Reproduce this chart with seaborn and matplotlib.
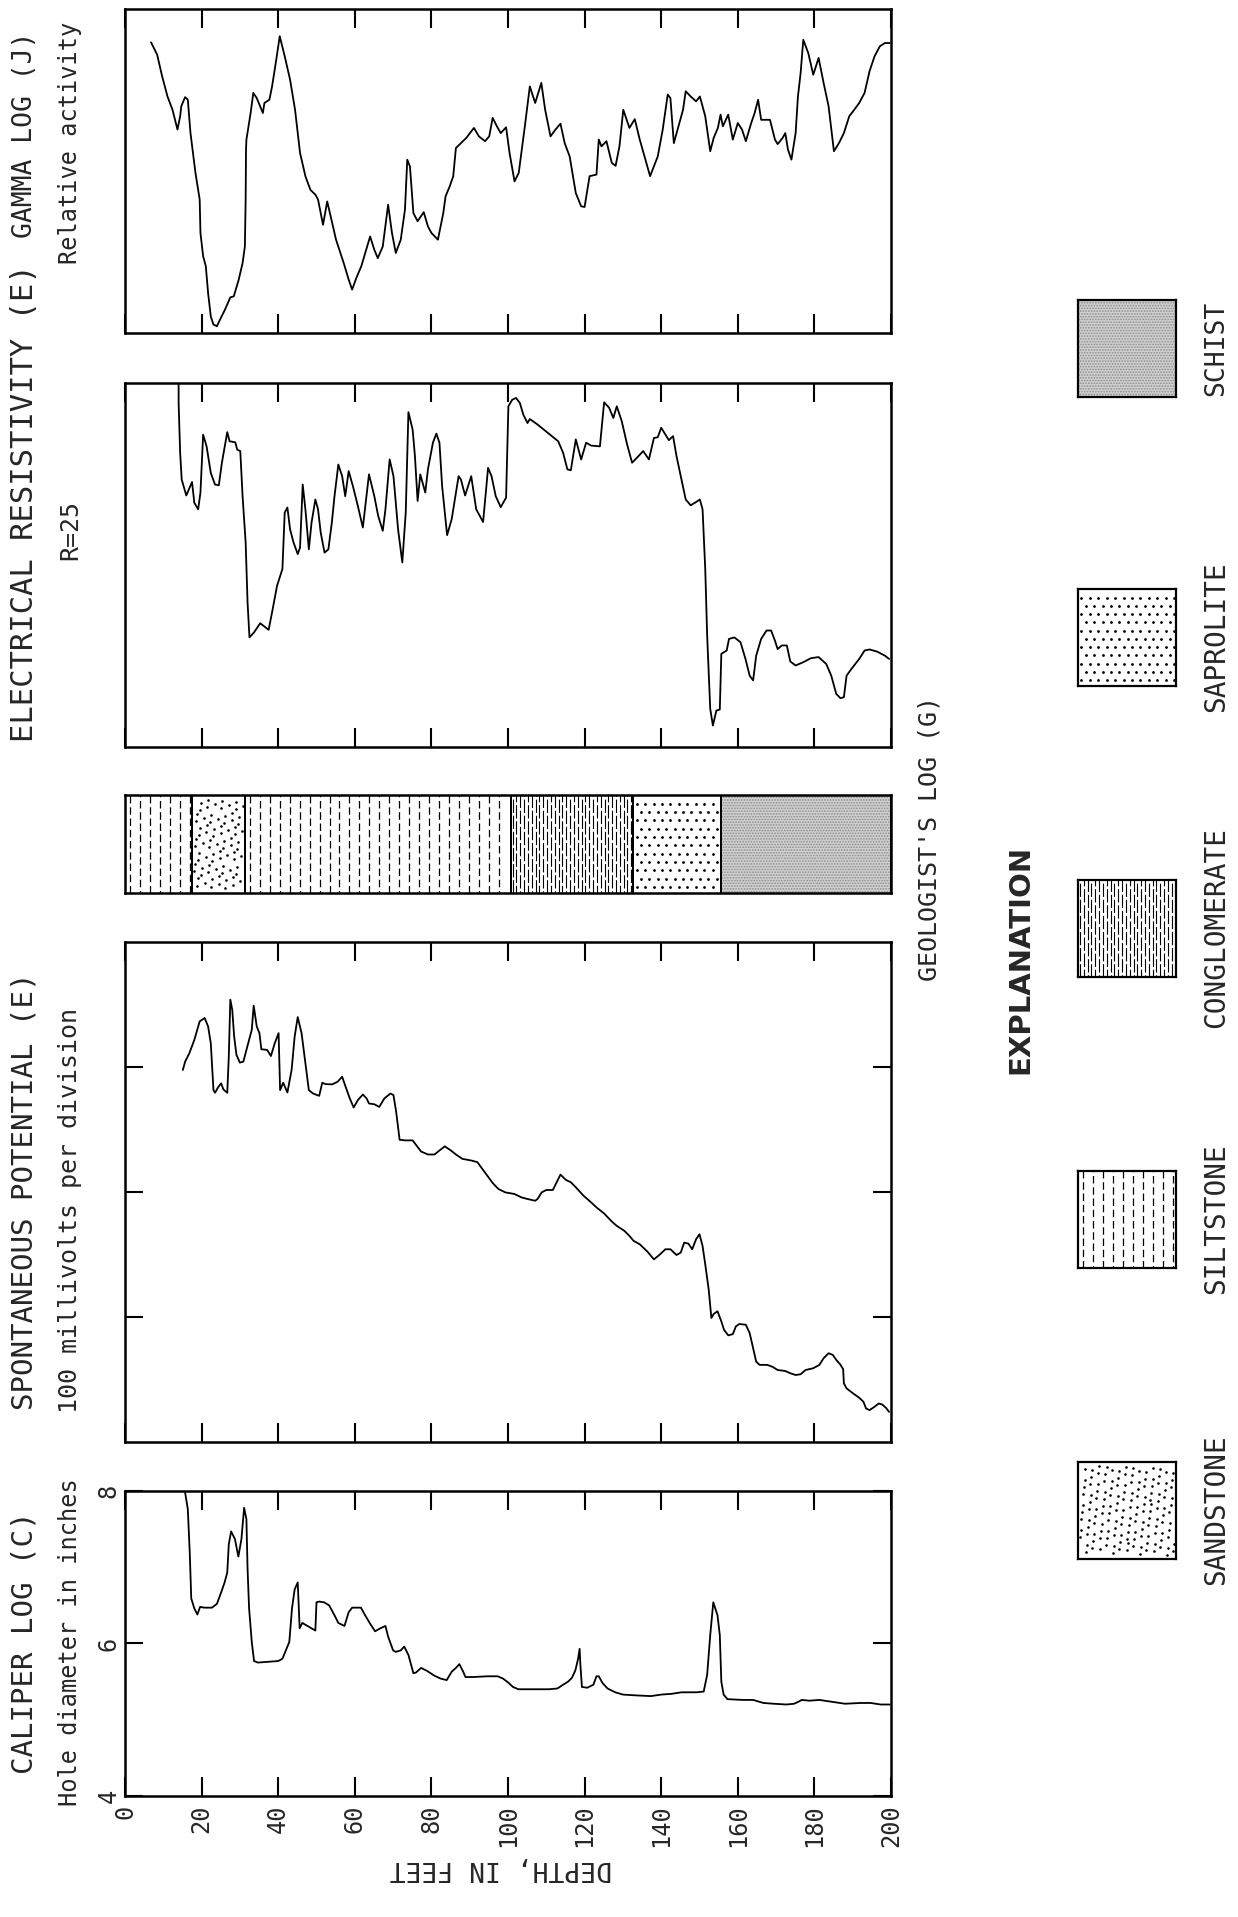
import matplotlib
matplotlib.use("Agg")
import matplotlib.pyplot as plt
import numpy as np
import seaborn as sns

# ---- data (depth in feet) ----
gamma_depth = [6.8, 8.4, 9.7, 11.1, 12.4, 13.7, 14.4, 14.7, 15.7, 16.4, 17.1, 18.4, 19.5, 19.7, 20.4, 21.1, 21.7, 22.4,
               23.1, 24.0, 24.8, 26.1, 27.5, 28.4, 29.7, 30.7, 31.3, 31.5, 31.6, 31.7, 32.8, 33.5, 34.4, 36.0, 36.4, 37.7,
               38.4, 39.5, 40.4, 41.7, 43.1, 44.4, 45.7, 47.1, 48.4, 49.7, 50.4, 51.7, 52.8, 53.7, 55.1, 57.1, 58.4, 59.3,
               60.4, 61.7, 64.0, 65.1, 66.0, 67.3, 68.7, 69.7, 70.7, 72.0, 73.1, 73.7, 74.4, 75.3, 76.4, 78.0, 79.1, 80.0,
               81.7, 83.1, 83.7, 84.8, 85.7, 86.4, 87.7, 89.1, 91.1, 92.4, 94.0, 95.1, 96.0, 97.1, 98.1, 99.5, 100.4, 101.7,
               102.8, 104.4, 105.7, 107.1, 108.7, 109.7, 111.1, 112.4, 113.7, 114.8, 116.1, 117.7, 119.1, 120.0, 121.3,
               123.1, 123.7, 124.4, 125.7, 127.1, 128.1, 129.1, 130.1, 131.7, 133.1, 134.4, 137.1, 139.1, 140.4, 141.7,
               142.4, 143.3, 144.4, 145.7, 146.4, 147.7, 149.1, 150.1, 151.5, 152.8, 153.7, 154.8, 155.5, 156.1, 157.5,
               158.7, 160.0, 161.1, 162.1, 163.5, 164.4, 165.3, 166.1, 168.4, 169.7, 170.4, 171.7, 172.4, 173.1, 174.0,
               175.1, 175.7, 176.4, 177.1, 178.4, 179.7, 181.1, 182.4, 183.7, 185.1, 186.4, 187.7, 189.1, 190.4, 191.7,
               193.1, 194.4, 195.7, 197.1, 198.4, 199.7]
gamma_value = [89.7, 85.9, 79.2, 73.0, 68.9, 62.8, 66.9, 70.0, 72.8, 72.0, 61.7, 49.4, 41.2, 30.9, 23.7, 20.6, 12.3, 5.1,
               2.6, 2.1, 4.1, 7.2, 11.0, 11.3, 16.5, 21.6, 26.7, 41.2, 56.6, 59.7, 67.9, 74.1, 72.5, 67.9, 71.0, 72.0,
               76.1, 84.4, 91.6, 85.4, 78.2, 68.9, 55.6, 48.4, 44.2, 42.7, 41.2, 33.4, 40.6, 36.0, 28.8, 21.6, 16.5, 13.4,
               17.0, 20.6, 29.8, 25.7, 23.1, 26.7, 39.6, 30.9, 24.7, 28.8, 38.1, 53.5, 51.4, 37.0, 34.5, 37.3, 32.9, 30.9,
               28.8, 37.0, 42.2, 45.3, 48.4, 57.1, 58.6, 60.2, 63.3, 60.7, 59.2, 60.7, 66.4, 63.8, 61.7, 63.5, 55.6, 46.8,
               49.4, 63.8, 76.1, 71.0, 77.2, 68.9, 60.7, 62.8, 64.6, 58.6, 54.5, 43.2, 39.1, 38.9, 48.4,
               48.9, 59.7, 57.6, 59.2, 52.5, 51.6, 57.6, 68.9, 63.3, 66.0, 59.7, 48.4, 54.5, 62.8, 73.6,
               72.5, 58.6, 63.3, 68.9, 74.6, 73.0, 71.5, 73.0, 66.9, 56.1, 60.2, 63.3, 67.4, 63.8, 67.4,
               59.7, 64.8, 62.8, 59.2, 64.8, 67.9, 72.0, 65.8, 65.8, 59.7, 58.3, 60.2, 61.7, 56.6, 53.5,
               61.7, 73.0, 80.2, 90.5, 86.4, 79.7, 84.9, 77.2, 70.0, 56.1, 58.6, 61.7, 66.9, 68.9, 71.0,
               74.1, 80.8, 85.4, 88.5, 89.5, 89.5]

res_depth = [14.0, 14.0, 14.4, 14.8, 16.0, 17.5, 18.1, 19.1, 19.7, 20.4, 21.3, 22.4, 23.5, 24.5, 25.3, 26.7, 27.3, 28.8,
             29.3, 30.1, 30.7, 31.5, 32.0, 32.5, 33.7, 35.3, 36.4, 37.5, 38.4, 39.7, 41.1, 41.7, 42.4, 43.1, 44.0, 45.1,
             45.7, 46.4, 47.1, 48.0, 48.7, 49.7, 50.4, 51.1, 52.1, 53.1, 54.0, 54.7, 55.7, 56.7, 57.5, 58.4, 59.5, 60.8,
             62.1, 63.7, 65.1, 66.1, 67.3, 68.0, 69.1, 70.1, 71.3, 72.4, 73.3, 74.0, 75.1, 75.7, 76.4, 77.1, 78.4, 79.1,
             80.4, 81.3, 82.1, 82.8, 84.1, 85.3, 87.1, 87.7, 88.8, 90.4, 91.7, 93.5, 94.8, 95.7, 96.8, 98.1, 99.5, 100.1,
             101.1, 102.1, 103.1, 104.0, 105.1, 105.7, 107.7, 110.4, 113.1, 114.4, 115.5, 116.4, 117.7, 119.1, 120.4,
             121.7, 124.0, 125.1, 126.4, 127.5, 128.4, 129.7, 131.1, 132.4, 133.7, 135.3, 136.8, 138.1, 139.1, 140.0,
             141.1, 142.0, 143.1, 144.0, 145.1, 146.4, 147.7, 149.1, 150.1, 150.8, 151.5, 152.0, 152.8, 153.5, 154.4,
             155.3, 155.7, 157.1, 157.7, 159.1, 160.7, 162.0, 163.1, 164.0, 164.8, 166.1, 167.5, 168.7, 169.7, 170.4,
             171.5, 172.8, 173.7, 175.1, 177.1, 179.1, 181.1, 183.1, 184.4, 185.7, 186.8, 187.7, 188.4, 189.7, 191.7,
             193.1, 194.4, 196.4, 198.4, 199.5]
res_value = [100.0, 94.5, 80.8, 73.5, 69.1, 72.8, 67.1, 65.3, 69.9, 85.8, 82.6, 75.3, 72.1, 71.9, 78.1, 86.5, 84.0, 83.7,
             81.7, 81.3, 68.9, 56.2, 39.7, 30.1, 31.5, 34.0, 33.1, 32.2, 37.0, 44.3, 48.9, 64.4, 65.8, 59.8, 56.2, 53.0,
             54.8, 72.1, 65.3, 54.3, 61.6, 68.0, 65.3, 58.9, 53.4, 54.3, 61.6, 68.9, 77.6, 74.4, 68.9, 75.8, 71.7, 66.2,
             60.3, 74.9, 68.9, 63.5, 59.4, 65.3, 79.0, 74.4, 59.8, 50.7, 64.4, 92.0, 87.2, 79.9, 67.6, 74.9, 69.9, 76.3,
             83.6, 86.1, 83.6, 71.7, 58.2, 62.6, 74.4, 73.5, 69.1, 74.4, 65.3, 61.8, 76.7, 74.4, 68.9, 65.9, 68.5, 93.6,
             95.4, 95.9, 94.5, 91.3, 89.0, 90.1, 88.6, 86.3, 84.0, 80.8, 76.3, 76.0, 84.5, 79.0, 83.6,
             82.8, 82.6, 94.7, 93.2, 90.4, 93.6, 89.5, 83.1, 78.1, 79.5, 81.3, 79.0, 84.9, 85.1, 87.7,
             85.8, 84.3, 85.4, 79.9, 74.4, 68.0, 66.4, 67.3, 68.0, 65.3, 48.9, 30.6, 10.5, 5.9, 10.0,
             10.3, 25.6, 26.5, 29.7, 30.1, 28.8, 24.2, 19.6, 18.3, 25.1, 29.7, 32.0, 32.0, 29.2, 26.9,
             27.9, 27.9, 23.5, 22.4, 23.3, 24.4, 24.7, 22.8, 19.6, 14.6, 13.4, 13.7, 19.6, 21.5, 24.2,
             26.5, 26.8, 26.2, 25.1, 24.2]

sp_depth = [15.1, 15.7, 16.8, 18.1, 19.5, 20.8, 21.7, 22.4, 23.1, 23.5, 24.4, 25.1, 25.7, 26.7, 27.1, 27.5, 28.0, 28.5,
            29.1, 30.0, 30.9, 31.7, 32.4, 33.1, 33.6, 34.4, 35.1, 35.6, 37.1, 38.1, 39.1, 40.1, 40.5, 41.3, 42.4, 43.5,
            44.3, 45.1, 46.1, 47.1, 48.0, 49.1, 50.7, 51.5, 52.4, 54.1, 55.5, 56.7, 57.6, 58.7, 59.7, 60.8, 62.1, 63.1,
            63.7, 65.1, 66.4, 67.7, 69.3, 70.1, 70.8, 71.7, 73.1, 75.1, 76.1, 77.3, 79.1, 80.8, 82.1, 83.5, 85.1, 86.4,
            88.1, 90.4, 92.0, 93.1, 94.4, 96.0, 97.5, 99.3, 101.7, 103.5, 105.1, 107.1, 107.7, 108.8, 110.0, 111.7,
            112.7, 113.7, 115.1, 116.4, 117.7, 119.7, 121.7, 123.1, 125.1, 127.1, 128.4, 130.4, 131.7, 132.8, 134.4,
            136.4, 138.1, 139.5, 141.1, 142.4, 144.0, 145.1, 146.0, 147.1, 148.1, 149.1, 150.0, 150.8, 151.5, 152.4,
            153.1, 153.7, 154.7, 155.7, 156.4, 157.5, 158.7, 159.5, 160.4, 162.1, 163.1, 163.7, 164.8, 165.7, 167.7,
            169.1, 170.4, 172.4, 173.7, 175.1, 176.4, 177.7, 179.7, 181.3, 182.4, 183.7, 184.8, 185.7, 186.7, 187.5,
            187.7, 188.4, 190.1, 191.7, 192.8, 193.5, 194.4, 195.7, 196.8, 197.7, 198.7, 199.5]
sp_mv = [297.6, 304.3, 311.0, 321.7, 336.5, 339.2, 332.4, 319.0, 281.5, 279.4, 284.2, 286.9, 282.0, 279.4, 308.3, 353.9,
         345.8, 324.4, 309.7, 303.5, 304.3, 313.7, 321.7, 329.8, 349.1, 332.4, 327.1, 314.2, 313.7, 308.8, 319.0, 327.1,
         281.5, 287.4, 279.6, 297.6, 324.4, 339.9, 327.1, 303.0, 281.5, 278.8, 276.9, 287.4, 286.3, 286.1, 288.2, 292.2,
         284.2, 274.8, 267.6, 273.5, 278.0, 274.8, 270.8, 270.2, 268.1, 274.8, 278.8, 277.5, 264.1, 241.8, 241.3, 241.3,
         237.3, 232.4, 230.0, 230.0, 233.2, 236.5, 233.2, 230.0, 226.5, 225.2, 223.9, 219.3, 213.9, 207.2, 202.4, 199.7,
         198.4, 195.7, 194.4, 193.0, 194.4, 199.7, 201.6, 201.6, 207.8, 213.9, 209.7, 207.8, 203.8, 197.1, 191.7, 187.7,
         182.8, 176.4, 172.9, 168.9, 164.9, 160.9, 158.2, 152.3, 146.1, 149.6, 154.2, 154.2, 149.6, 151.5, 159.5, 158.7,
         154.2, 162.2, 166.2, 156.8, 142.1, 122.0, 99.2, 102.4, 104.6, 96.5, 89.8, 85.3, 86.3, 92.5, 94.4, 93.8, 87.1,
         79.1, 64.3, 61.7, 61.7, 60.1, 57.6, 56.8, 55.0, 53.6, 54.2, 57.6, 59.0, 61.7, 67.0, 71.0, 69.7, 65.7, 62.2,
         58.4, 46.9, 42.9, 38.9, 35.4, 32.2, 26.8, 25.5, 28.2, 30.8, 30.0, 27.3, 24.1]

cal_depth = [15.7, 16.4, 16.9, 17.3, 18.1, 18.9, 19.6, 20.7, 22.7, 24.0, 25.1, 26.0, 26.7, 27.1, 27.7, 28.7, 29.6, 30.4,
             31.1, 31.7, 32.0, 32.4, 33.1, 33.7, 34.7, 37.3, 40.0, 41.1, 42.0, 42.9, 43.6, 44.3, 45.1, 45.6, 46.3, 47.3,
             48.7, 49.7, 50.0, 50.7, 52.0, 53.3, 54.7, 55.7, 57.3, 58.4, 59.3, 60.7, 61.6, 62.7, 64.0, 65.3, 66.7, 68.0,
             68.7, 70.0, 70.7, 72.0, 72.9, 74.0, 75.3, 76.0, 77.3, 78.9, 80.7, 82.4, 84.0, 85.3, 86.4, 87.3, 88.3, 88.9,
             90.7, 94.7, 97.3, 98.7, 100.0, 101.3, 102.7, 106.7, 110.7, 112.9, 114.4, 115.7, 116.7, 117.6, 118.3, 118.7,
             118.9, 119.3, 120.7, 122.3, 123.1, 123.7, 124.7, 126.0, 128.0, 130.0, 133.3, 137.3, 140.0, 142.7, 145.3,
             149.3, 151.1, 152.0, 152.8, 153.6, 154.7, 155.3, 155.7, 156.3, 157.3, 161.3, 164.0, 166.7, 169.3, 172.7,
             174.7, 176.0, 176.7, 178.7, 181.3, 184.0, 188.0, 192.0, 194.7, 197.3, 199.7]
cal_inches = [7.98, 7.76, 7.20, 6.59, 6.46, 6.38, 6.48, 6.47, 6.47, 6.52, 6.67, 6.80, 6.93, 7.30, 7.47, 7.37, 7.14, 7.37,
              7.78, 7.63, 6.98, 6.46, 6.02, 5.77, 5.75, 5.76, 5.77, 5.80, 5.91, 6.02, 6.46, 6.71, 6.80, 6.20, 6.27, 6.24,
              6.20, 6.17, 6.54, 6.55, 6.54, 6.50, 6.37, 6.27, 6.23, 6.41, 6.47, 6.47, 6.47, 6.37, 6.26, 6.16, 6.20, 6.23,
              6.09, 5.91, 5.89, 5.91, 5.96, 5.85, 5.61, 5.62, 5.68, 5.64, 5.58, 5.54, 5.52, 5.63, 5.68, 5.73, 5.63, 5.56,
              5.56, 5.57, 5.57, 5.54, 5.49, 5.43, 5.40, 5.40, 5.40, 5.41, 5.46, 5.50, 5.55, 5.65, 5.80, 5.93,
              5.72, 5.43, 5.42, 5.46, 5.57, 5.57, 5.48, 5.41, 5.36, 5.33, 5.32, 5.31, 5.33, 5.34, 5.36,
              5.36, 5.37, 5.59, 6.11, 6.54, 6.37, 6.11, 5.50, 5.33, 5.27, 5.26, 5.26, 5.22, 5.21, 5.20,
              5.21, 5.24, 5.26, 5.25, 5.26, 5.24, 5.21, 5.22, 5.22, 5.20, 5.20]

# geologist's log
geo_top = [0, 17.6, 31.3, 100.7, 132.7, 155.7]
geo_base = [17.6, 31.3, 100.7, 132.7, 155.7, 200]
geo_rock = ["SILTSTONE", "SANDSTONE", "SILTSTONE", "CONGLOMERATE", "SAPROLITE", "SCHIST"]

depth_ticks = list(range(0, 201, 20))
legend_rocks = ["SCHIST", "SAPROLITE", "CONGLOMERATE", "SILTSTONE", "SANDSTONE"]

# ---- style ----
sns.set_theme(style="white")
plt.rcParams["font.family"] = ["DejaVu Sans Mono"]
plt.rcParams["hatch.linewidth"] = 0.8

W, H = 1238, 1917
fig = plt.figure(figsize=(W / 100, H / 100), dpi=100)


def px_box(x0, y0, x1, y1):
    return [x0 / W, 1 - y1 / H, (x1 - x0) / W, (y1 - y0) / H]


def frame(ax, depth_axis=True):
    for s in ax.spines.values():
        s.set_visible(True)
        s.set_color("black")
        s.set_linewidth(1.8)
    ax.set_xlim(0, 200)
    if depth_axis:
        ax.set_xticks(depth_ticks)
        ax.tick_params(axis="x", which="both", bottom=True, top=True, direction="in",
                       length=14, width=1.5, color="black", labelbottom=False)
    else:
        ax.set_xticks([])
    ax.set_xlabel("")
    ax.set_ylabel("")


def draw_rock(ax, x0, x1, rock):
    if rock == "SILTSTONE":
        xs = np.arange(x0 + 1.3, x1 - 0.6, 2.6)
        for i, x in enumerate(xs):
            ax.plot([x, x], [0, 1], color="black", lw=0.9, ls=((i % 2) * 4, (6, 3)))
    elif rock == "SANDSTONE":
        n = int((x1 - x0) * 6)
        k = np.arange(1, n + 1)
        xs = x0 + 0.4 + (x1 - x0 - 0.8) * ((k * 0.7548776662) % 1)
        ys = 0.04 + 0.92 * ((k * 0.5698402910) % 1)
        ax.scatter(xs, ys, s=3.5, color="black", lw=0)
    elif rock == "SAPROLITE":
        for j, y in enumerate(np.arange(0.06, 0.97, 0.085)):
            xs = np.arange(x0 + 0.9 + (j % 2) * 1.1, x1 - 0.4, 2.2)
            ax.scatter(xs, np.full_like(xs, y), s=4, color="black", lw=0)
    elif rock == "CONGLOMERATE":
        xs = np.arange(x0 + 0.5, x1 - 0.3, 1.0)
        for i, x in enumerate(xs):
            ax.plot([x, x], [0, 1], color="black", lw=0.8, ls=((i % 3) * 5, (12, 2.5)))
    elif rock == "SCHIST":
        ax.axvspan(x0, x1, facecolor="#cfcfcf", edgecolor="#8c8c8c", hatch="......", lw=0)
    for x in (x0, x1):
        ax.plot([x, x], [0, 1], color="black", lw=1.4)


# gamma log
ax_g = fig.add_axes(px_box(125, 9, 891, 333))
sns.lineplot(x=gamma_depth, y=gamma_value, ax=ax_g, color="black", linewidth=1.3, sort=False, estimator=None)
ax_g.set_ylim(0, 100)
ax_g.set_yticks([])
frame(ax_g)

# electrical resistivity
ax_r = fig.add_axes(px_box(125, 383, 891, 747))
sns.lineplot(x=res_depth, y=res_value, ax=ax_r, color="black", linewidth=1.3, sort=False, estimator=None)
ax_r.set_ylim(0, 100)
ax_r.set_yticks([])
frame(ax_r)

# geologist's log
ax_geo = fig.add_axes(px_box(125, 795, 891, 893))
for t, b, r in zip(geo_top, geo_base, geo_rock):
    draw_rock(ax_geo, t, b, r)
ax_geo.set_ylim(0, 1)
ax_geo.set_yticks([])
frame(ax_geo, depth_axis=False)

# spontaneous potential
ax_sp = fig.add_axes(px_box(125, 942, 891, 1442))
sns.lineplot(x=sp_depth, y=sp_mv, ax=ax_sp, color="black", linewidth=1.3, sort=False, estimator=None)
ax_sp.set_ylim(0, 400)
ax_sp.set_yticks([100, 200, 300])
ax_sp.tick_params(axis="y", left=True, right=True, direction="in", length=13, width=1.5,
                  color="black", labelleft=False)
frame(ax_sp)

# caliper
ax_c = fig.add_axes(px_box(125, 1491, 891, 1796))
sns.lineplot(x=cal_depth, y=cal_inches, ax=ax_c, color="black", linewidth=1.3, sort=False, estimator=None)
ax_c.set_ylim(4, 8)
ax_c.set_yticks([4, 6, 8])
ax_c.set_yticklabels(["4", "6", "8"])
frame(ax_c)
ax_c.tick_params(axis="y", left=True, right=True, direction="in", length=13, width=1.5,
                 color="black", labelleft=True, labelsize=17, labelrotation=90, pad=3)
for lab in ax_c.get_yticklabels():
    lab.set_va("center")
ax_c.set_xticklabels([str(v) for v in depth_ticks])
ax_c.tick_params(axis="x", labelbottom=True, labelsize=17, labelrotation=90, pad=6)

fig.text(501 / W, 1 - 1868 / H, "DEPTH, IN FEET", rotation=180, ha="center", va="center", fontsize=19)

# titles (rotated)
titles = [
    (25, 135, "GAMMA LOG (J)", 19), (70, 143, "Relative activity", 17),
    (25, 503, "ELECTRICAL RESISTIVITY (E)", 22), (70, 530, "R=25", 18),
    (25, 1191, "SPONTANEOUS POTENTIAL (E)", 21), (70, 1210, "100 millivolts per division", 18),
    (25, 1643, "CALIPER LOG (C)", 21), (70, 1642, "Hole diameter in inches", 17),
]
for x, y, s, fs in titles:
    fig.text(x / W, 1 - y / H, s, rotation=90, ha="center", va="center", fontsize=fs)

fig.text(929 / W, 1 - 838 / H, "GEOLOGIST'S LOG (G)", rotation=90, ha="center", va="center", fontsize=18)

# explanation
fig.text(1020 / W, 1 - 959 / H, "EXPLANATION", rotation=90, ha="center", va="center",
         fontsize=21, fontweight="bold", family="DejaVu Sans")
legend_center = [348, 637, 928, 1219, 1510]
legend_size = [19, 20, 20, 20, 20]
for rock, yc, fs in zip(legend_rocks, legend_center, legend_size):
    axb = fig.add_axes(px_box(1078, yc - 48, 1176, yc + 49))
    draw_rock(axb, 0, 25.6, rock)
    axb.set_xlim(0, 25.6)
    axb.set_ylim(0, 1)
    axb.set_xticks([])
    axb.set_yticks([])
    for s in axb.spines.values():
        s.set_visible(True)
        s.set_color("black")
        s.set_linewidth(1.6)
    fig.text(1216 / W, 1 - yc / H, rock, rotation=90, ha="center", va="center", fontsize=fs)

fig.savefig("out.png", dpi=100, facecolor="white")
